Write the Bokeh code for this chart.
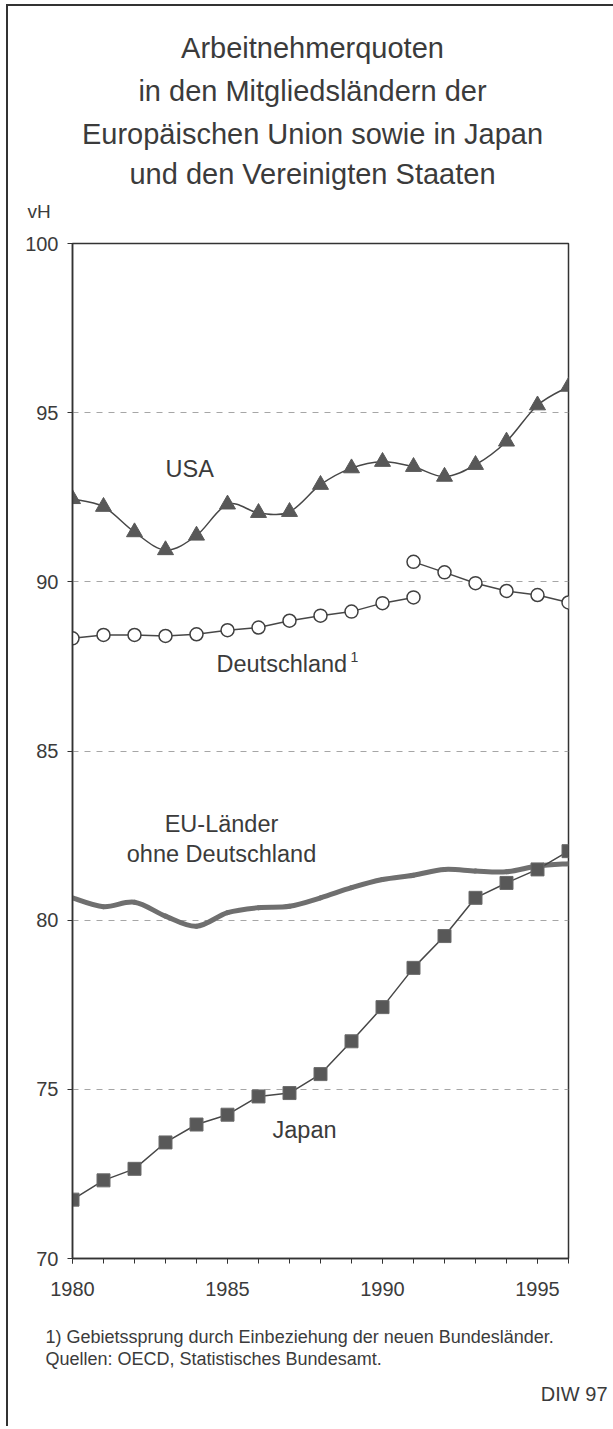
from bokeh.plotting import figure
from bokeh.layouts import column
from bokeh.models import Range1d, FixedTicker, Label, ColumnDataSource
from bokeh.embed import file_html
from bokeh.resources import INLINE

# ---------------- data ----------------
years = list(range(1980, 1997))
usa = [92.45, 92.22, 91.47, 90.94, 91.37, 92.29, 92.04, 92.07, 92.87,
       93.36, 93.55, 93.40, 93.11, 93.46, 94.15, 95.22, 95.77]
de_west_years = list(range(1980, 1992))
de_west = [88.33, 88.43, 88.43, 88.40, 88.45, 88.57, 88.65, 88.85, 89.00,
           89.12, 89.37, 89.54]
de_all_years = list(range(1991, 1997))
de_all = [90.59, 90.28, 89.96, 89.73, 89.61, 89.39]
eu = [80.66, 80.40, 80.53, 80.12, 79.82, 80.22, 80.37, 80.41, 80.66,
      80.96, 81.20, 81.33, 81.50, 81.45, 81.43, 81.60, 81.67]
japan = [71.74, 72.31, 72.65, 73.43, 73.96, 74.25, 74.79, 74.89, 75.45,
         76.42, 77.43, 78.59, 79.53, 80.66, 81.10, 81.50, 82.04]

x_major = [1980, 1985, 1990, 1995]
y_ticks = [70, 75, 80, 85, 90, 95, 100]
y_grid = [75, 80, 85, 90, 95]

title_lines = ["Arbeitnehmerquoten",
               "in den Mitgliedsländern der",
               "Europäischen Union sowie in Japan",
               "und den Vereinigten Staaten"]
footnotes = ["1) Gebietssprung durch Einbeziehung der neuen Bundesländer.",
             "Quellen: OECD, Statistisches Bundesamt."]

# ---------------- layout (reference pixel geometry) ----------------
FONT = "Liberation Sans"
TXT = "#3b3b3b"
W = 605
OX, OY = 8, 6                         # canvas origin in reference pixels
HEAD_BOTTOM = 228
MAIN_BOTTOM = 1318
FOOT_BOTTOM = 1426
FL, FT, FR, FB = 72, 243, 568, 1258   # plot frame in reference pixels


def text_figure(y_top, y_bottom):
    f = figure(width=W, height=y_bottom - y_top, output_backend="svg", toolbar_location=None,
               title=None, frame_align=False,
               x_range=Range1d(OX, OX + W), y_range=Range1d(y_bottom, y_top),
               x_axis_type=None, y_axis_type=None,
               min_border_left=0, min_border_right=0, min_border_top=0, min_border_bottom=0,
               background_fill_color="white", border_fill_color="white")
    f.outline_line_color = None
    f.grid.visible = False
    return f


def put(fig, text, x, y, size, align="left"):
    fig.add_layout(Label(x=x, y=y, text=text, text_font=FONT, text_font_size=size,
                         text_color=TXT, text_align=align, text_baseline="alphabetic"))


# header
head = text_figure(OY, HEAD_BOTTOM)
for line, ty in zip(title_lines, [47, 90, 133, 173]):
    put(head, line, 312, ty, "29px", align="center")
put(head, "vH", 27, 211, "19px")

# main chart
p = figure(width=W, height=MAIN_BOTTOM - HEAD_BOTTOM, output_backend="svg", toolbar_location=None,
           title=None, frame_align=False,
           x_range=Range1d(1980, 1996), y_range=Range1d(70, 100),
           min_border_left=FL - OX, min_border_top=FT - HEAD_BOTTOM,
           min_border_right=OX + W - FR, min_border_bottom=MAIN_BOTTOM - FB,
           background_fill_color="white", border_fill_color="white")


def dx(px):
    return 1980 + (px - FL) * 16.0 / (FR - FL)


def dy(py):
    return 100 - (py - FT) * 30.0 / (FB - FT)


for ax in (p.xaxis[0], p.yaxis[0]):
    ax.axis_line_color = "#333333"
    ax.axis_line_width = 1.5
    ax.major_tick_line_color = "#333333"
    ax.minor_tick_line_color = "#333333"
    ax.major_tick_in = 0
    ax.minor_tick_in = 0
    ax.major_label_text_font = FONT
    ax.major_label_text_font_size = "20px"
    ax.major_label_text_color = TXT

p.xaxis.ticker = FixedTicker(ticks=x_major, minor_ticks=years)
p.xaxis.major_tick_out = 5
p.xaxis.minor_tick_out = 5
p.xaxis.major_label_standoff = 18
p.yaxis.ticker = FixedTicker(ticks=y_ticks, minor_ticks=[])
p.yaxis.major_tick_out = 5
p.yaxis.minor_tick_out = 0
p.yaxis.major_label_standoff = 9

p.outline_line_color = "#333333"
p.outline_line_width = 1.5
p.xgrid.visible = False
p.ygrid.ticker = FixedTicker(ticks=y_grid)
p.ygrid.grid_line_color = "#a6a6a6"
p.ygrid.grid_line_dash = "6 6"
p.ygrid.grid_line_width = 1


def smooth_source(xs, ys):
    n = len(xs)
    d = dict(x0=[], y0=[], x1=[], y1=[], cx0=[], cy0=[], cx1=[], cy1=[])
    for i in range(n - 1):
        im, ip2 = max(i - 1, 0), min(i + 2, n - 1)
        d["x0"].append(xs[i]); d["y0"].append(ys[i])
        d["x1"].append(xs[i + 1]); d["y1"].append(ys[i + 1])
        d["cx0"].append(xs[i] + (xs[i + 1] - xs[im]) / 6.0)
        d["cy0"].append(ys[i] + (ys[i + 1] - ys[im]) / 6.0)
        d["cx1"].append(xs[i + 1] - (xs[ip2] - xs[i]) / 6.0)
        d["cy1"].append(ys[i + 1] - (ys[ip2] - ys[i]) / 6.0)
    return ColumnDataSource(d)


LINE = "#474747"
MARK = "#585858"

# EU line (thick, smooth)
p.bezier(x0="x0", y0="y0", x1="x1", y1="y1", cx0="cx0", cy0="cy0", cx1="cx1", cy1="cy1",
         source=smooth_source(years, eu), line_color="#6f6f6f", line_width=5, line_cap="round")

# Japan
p.line(years, japan, line_color=LINE, line_width=1.5)
p.scatter(years, japan, marker="square", size=13, fill_color=MARK, line_color="#6a6a6a", line_width=1)

# USA (smooth)
p.bezier(x0="x0", y0="y0", x1="x1", y1="y1", cx0="cx0", cy0="cy0", cx1="cx1", cy1="cy1",
         source=smooth_source(years, usa), line_color=LINE, line_width=1.5, line_cap="round")
p.scatter(years, usa, marker="triangle", size=16, fill_color=MARK, line_color=MARK, line_width=1)

# Deutschland
p.line(de_west_years, de_west, line_color=LINE, line_width=1.5)
p.line(de_all_years, de_all, line_color=LINE, line_width=1.5)
p.scatter(de_west_years, de_west, marker="circle", size=13, fill_color="white", line_color="#404040", line_width=1.5)
p.scatter(de_all_years, de_all, marker="circle", size=13, fill_color="white", line_color="#404040", line_width=1.5)

# series labels
put(p, "USA", dx(165), dy(468), "23.5px")
put(p, "Deutschland", dx(216), dy(663), "23.5px")
put(p, "1", dx(350), dy(656), "14px")
put(p, "EU-Länder", dx(221), dy(823), "23.5px", align="center")
put(p, "ohne Deutschland", dx(221), dy(853), "23.5px", align="center")
put(p, "Japan", dx(272), dy(1129), "23.5px")

# footer
foot = text_figure(MAIN_BOTTOM, FOOT_BOTTOM)
put(foot, footnotes[0], 45, 1336, "18px")
put(foot, footnotes[1], 45, 1358, "18px")
put(foot, "DIW 97", 607, 1393, "20px", align="right")

layout = column(head, p, foot, spacing=0)
layout.styles = {"border-left": "2px solid #333333", "border-top": "2px solid #333333",
                 "margin-left": "6px", "margin-top": "4px"}

open("out.html", "w").write(file_html(layout, INLINE))
